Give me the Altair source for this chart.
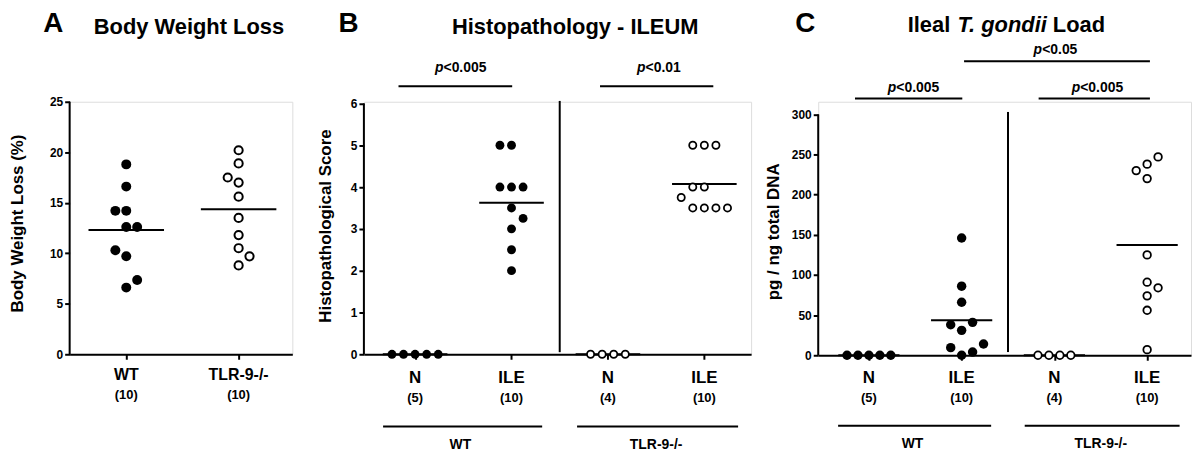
import altair as alt
import pandas as pd

FONT = "Liberation Sans"

# ---------------- Panel A: Body Weight Loss ----------------
a_categories = ["WT", "TLR-9-/-"]
a_counts = ["(10)", "(10)"]
a_wt_values = [18.8, 16.6, 14.2, 14.2, 12.6, 12.6, 10.3, 9.7, 7.35, 6.6]
a_wt_slots = [0, 0, -1, 0, 0, 1, -1, 0, 1, 0]
a_tlr_values = [20.2, 18.9, 17.5, 17.0, 15.6, 13.5, 11.8, 10.5, 9.7, 8.8]
a_tlr_slots = [0, 0, -1, 0, 0, 0, 0, 0, 1, 0]
a_yticks = [0, 5, 10, 15, 20, 25]

# ---------------- Panel B: Histopathology - ILEUM ----------------
b_categories = ["N", "ILE", "N", "ILE"]
b_counts = ["(5)", "(10)", "(4)", "(10)"]
b_wt_n_values = [0, 0, 0, 0, 0]
b_wt_n_slots = [-2, -1, 0, 1, 2]
b_wt_ile_values = [5, 5, 4, 4, 4, 3.5, 3.25, 3, 2.5, 2]
b_wt_ile_slots = [-1, 0, -1, 0, 1, 0, 1, 0, 0, 0]
b_tlr_n_values = [0, 0, 0, 0]
b_tlr_n_slots = [-1.5, -0.5, 0.5, 1.5]
b_tlr_ile_values = [5, 5, 5, 4, 4, 3.75, 3.5, 3.5, 3.5, 3.5]
b_tlr_ile_slots = [-1, 0, 1, -1, 0, -2, -1, 0, 1, 2]
b_yticks = [0, 1, 2, 3, 4, 5, 6]
b_sig_x1 = [0.828, 2.918]
b_sig_x2 = [2.007, 4.093]
b_sig_y = [6.41, 6.41]
b_sig_label = ["<0.005", "<0.01"]
b_sig_label_x = [1.206, 3.302]
b_sig_label_y = [6.754, 6.754]

# ---------------- Panel C: Ileal T. gondii Load ----------------
c_categories = ["N", "ILE", "N", "ILE"]
c_counts = ["(5)", "(10)", "(4)", "(10)"]
c_wt_n_values = [0, 0, 0, 0, 0]
c_wt_n_slots = [-2, -1, 0, 1, 2]
c_wt_ile_values = [146, 86, 66, 41, 38, 31, 14, 9.5, 4, 0]
c_wt_ile_slots = [0, 0, 0, 1, -1, 0, 2, -1, 1, 0]
c_tlr_n_values = [0, 0, 0, 0]
c_tlr_n_slots = [-1.5, -0.5, 0.5, 1.5]
c_tlr_ile_values = [247, 238, 230, 220, 125, 91, 84, 74, 56, 7]
c_tlr_ile_slots = [1, 0, -1, 0, 0, 0, 1, 0, 0, 0]
c_yticks = [0, 50, 100, 150, 200, 250, 300]
c_sig_x1 = [0.85, 2.83, 2.026]
c_sig_x2 = [2.007, 4.03, 4.03]
c_sig_y = [319.8, 319.8, 366.1]
c_sig_label = ["<0.005", "<0.005", "<0.05"]
c_sig_label_x = [1.204, 3.186, 2.776]
c_sig_label_y = [328.1, 328.1, 375.5]

group_names = ["WT", "TLR-9-/-"]
group_x1 = [0.668, 2.68]
group_x2 = [2.318, 4.35]
group_label_x = [1.47, 3.5]


def points_df(series):
    rows = []
    for pos, geno, vals, slots in series:
        for v, s in zip(vals, slots):
            rows.append({"pos": pos, "geno": geno, "value": v, "slot": s})
    return pd.DataFrame(rows)


def build_panel(df, categories, counts, xdom, ydom, yticks, width, height,
                step, half, fsize, osize, ostroke, lay, cnt_y, lab_font,
                letter, letter_xy, title_parts, ytitle, ytitle_xy,
                sig=None, divider=None, groups=None):
    xs = alt.Scale(domain=xdom, nice=False, zero=False)
    ys = alt.Scale(domain=ydom, nice=False, zero=False)
    xax = alt.Axis(values=list(range(1, len(categories) + 1)), labels=False, title=None,
                   grid=False, domainColor="black", domainWidth=2, tickColor="black",
                   tickWidth=2, tickSize=5)
    yax = alt.Axis(values=yticks, title=None, grid=False, domain=False,
                   tickColor="black", tickWidth=2, tickSize=5, labelFont=FONT,
                   labelFontWeight="bold", labelFontSize=12, labelColor="black",
                   labelPadding=2)

    def X(f):
        return alt.X(f, scale=xs, axis=xax)

    def Y(f):
        return alt.Y(f, scale=ys, axis=yax)

    # y axis line from the lowest to the highest tick only
    yline = alt.Chart(pd.DataFrame({"x": [xdom[0]], "y1": [yticks[0]], "y2": [yticks[-1]]})
                      ).mark_rule(color="black", strokeWidth=2).encode(
        x=X("x:Q"), y=Y("y1:Q"), y2="y2:Q")

    base = alt.Chart(df).transform_calculate(xpos=f"datum.pos + datum.slot * {step}")
    filled = base.transform_filter("datum.geno == 'WT'").mark_circle(
        size=fsize, color="black", opacity=1).encode(x=X("xpos:Q"), y=Y("value:Q"))
    hollow = base.transform_filter("datum.geno != 'WT'").mark_circle(
        size=osize, fill="white", stroke="black", strokeWidth=ostroke, opacity=1,
        fillOpacity=1).encode(x=X("xpos:Q"), y=Y("value:Q"))
    means = alt.Chart(df).transform_aggregate(
        mean="mean(value)", groupby=["pos"]
    ).transform_calculate(x1=f"datum.pos - {half}", x2=f"datum.pos + {half}").mark_rule(
        color="black", strokeWidth=2).encode(x=X("x1:Q"), x2="x2:Q", y=Y("mean:Q"))

    cat_df = pd.DataFrame({"pos": list(range(1, len(categories) + 1)),
                           "cat": categories, "cnt": counts})
    cat_text = alt.Chart(cat_df).mark_text(
        font=FONT, fontWeight="bold", fontSize=lab_font, color="black", baseline="alphabetic"
    ).encode(x=X("pos:Q"), y=alt.value(lay), text="cat:N")
    cnt_text = alt.Chart(cat_df).mark_text(
        font=FONT, fontWeight="bold", fontSize=13, color="black", baseline="alphabetic"
    ).encode(x=X("pos:Q"), y=alt.value(cnt_y), text="cnt:N")

    letter_layer = alt.Chart(pd.DataFrame({"t": [letter]})).mark_text(
        font=FONT, fontWeight="bold", fontSize=28, color="black", baseline="alphabetic",
        align="center").encode(x=alt.value(letter_xy[0]), y=alt.value(letter_xy[1]), text="t:N")
    title_layers = []
    for txt, tx, ty, al, style in title_parts:
        title_layers.append(alt.Chart(pd.DataFrame({"t": [txt]})).mark_text(
            font=FONT, fontWeight="bold", fontStyle=style, fontSize=22, color="black",
            baseline="alphabetic", align=al).encode(
            x=alt.value(tx), y=alt.value(ty), text="t:N"))
    ytitle_layer = alt.Chart(pd.DataFrame({"t": [ytitle]})).mark_text(
        font=FONT, fontWeight="bold", fontSize=17, color="black", baseline="alphabetic",
        align="center", angle=270).encode(
        x=alt.value(ytitle_xy[0]), y=alt.value(ytitle_xy[1]), text="t:N")

    layers = [yline, means, filled, hollow, cat_text, cnt_text, letter_layer, *title_layers,
              ytitle_layer]

    if sig is not None:
        sx1, sx2, sy, slab, slx, sly = sig
        sdf = pd.DataFrame({"x1": sx1, "x2": sx2, "y": sy})
        ldf = pd.DataFrame({"lab": slab, "lx": slx, "ly": sly})
        layers.append(alt.Chart(sdf).mark_rule(color="black", strokeWidth=2).encode(
            x=X("x1:Q"), x2="x2:Q", y=Y("y:Q")))
        layers.append(alt.Chart(ldf).mark_text(
            font=FONT, fontWeight="bold", fontStyle="italic", fontSize=14, color="black",
            align="left", baseline="alphabetic", text="p").encode(x=X("lx:Q"), y=Y("ly:Q")))
        layers.append(alt.Chart(ldf).mark_text(
            font=FONT, fontWeight="bold", fontSize=14, color="black", align="left",
            baseline="alphabetic", dx=8.6).encode(x=X("lx:Q"), y=Y("ly:Q"), text="lab:N"))
    if divider is not None:
        dx_, dy1, dy2 = divider
        ddf = pd.DataFrame({"x": [dx_], "y1": [dy1], "y2": [dy2]})
        layers.append(alt.Chart(ddf).mark_rule(color="black", strokeWidth=2).encode(
            x=X("x:Q"), y=Y("y1:Q"), y2="y2:Q"))
    if groups is not None:
        gline_y, glab_y = groups
        gdf = pd.DataFrame({"g": group_names, "x1": group_x1, "x2": group_x2,
                            "lx": group_label_x})
        layers.append(alt.Chart(gdf).mark_rule(color="black", strokeWidth=2).encode(
            x=X("x1:Q"), x2="x2:Q", y=alt.value(gline_y)))
        layers.append(alt.Chart(gdf).mark_text(
            font=FONT, fontWeight="bold", fontSize=14, color="black",
            baseline="alphabetic").encode(x=X("lx:Q"), y=alt.value(glab_y), text="g:N"))

    return alt.layer(*layers).properties(width=width, height=height)


dfA = points_df([(1, "WT", a_wt_values, a_wt_slots), (2, "TLR", a_tlr_values, a_tlr_slots)])
dfB = points_df([(1, "WT", b_wt_n_values, b_wt_n_slots), (2, "WT", b_wt_ile_values, b_wt_ile_slots),
                 (3, "TLR", b_tlr_n_values, b_tlr_n_slots),
                 (4, "TLR", b_tlr_ile_values, b_tlr_ile_slots)])
dfC = points_df([(1, "WT", c_wt_n_values, c_wt_n_slots), (2, "WT", c_wt_ile_values, c_wt_ile_slots),
                 (3, "TLR", c_tlr_n_values, c_tlr_n_slots),
                 (4, "TLR", c_tlr_ile_values, c_tlr_ile_slots)])

panelA = build_panel(
    dfA, a_categories, a_counts, [0.496, 2.478], [0, 25], a_yticks, 224, 254,
    0.097, 0.336, 100, 68, 2.0, 280, 299, 16,
    "A", (-16.5, -70), [("Body Weight Loss", 120, -68.5, "center", "normal")],
    "Body Weight Loss (%)", (-47, 122.5))

panelB = build_panel(
    dfB, b_categories, b_counts, [0.469, 4.485], [0, 6.04], b_yticks, 389.5, 254,
    0.12, 0.335, 80, 52, 1.8, 282.7, 302, 17,
    "B", (-15.5, -70), [("Histopathology - ILEUM", 212.5, -68.5, "center", "normal")],
    "Histopathological Score", (-33.5, 125),
    sig=(b_sig_x1, b_sig_x2, b_sig_y, b_sig_label, b_sig_label_x, b_sig_label_y),
    divider=(2.5, 0.05, 6.06), groups=(326.7, 349.3))

panelC = build_panel(
    dfC, c_categories, c_counts, [0.4534, 4.473], [0, 315.7], c_yticks, 375, 255,
    0.118, 0.33, 90, 58, 1.8, 282.7, 302, 17,
    "C", (-13, -70),
    [("Ileal", 90, -70.5, "left", "normal"), ("T. gondii", 140, -70.5, "left", "italic"),
     ("Load", 236, -70.5, "left", "normal")],
    "pg / ng total DNA", (-39, 130.8),
    sig=(c_sig_x1, c_sig_x2, c_sig_y, c_sig_label, c_sig_label_x, c_sig_label_y),
    divider=(2.5, 4, 303), groups=(326, 348.3))

chart = alt.hconcat(panelA, alt.hconcat(panelB, panelC, spacing=13), spacing=22).properties(
    padding=0
).configure_view(stroke=None).configure(background="white")

chart.save("out.html", embed_options={"renderer": "svg", "actions": False})
